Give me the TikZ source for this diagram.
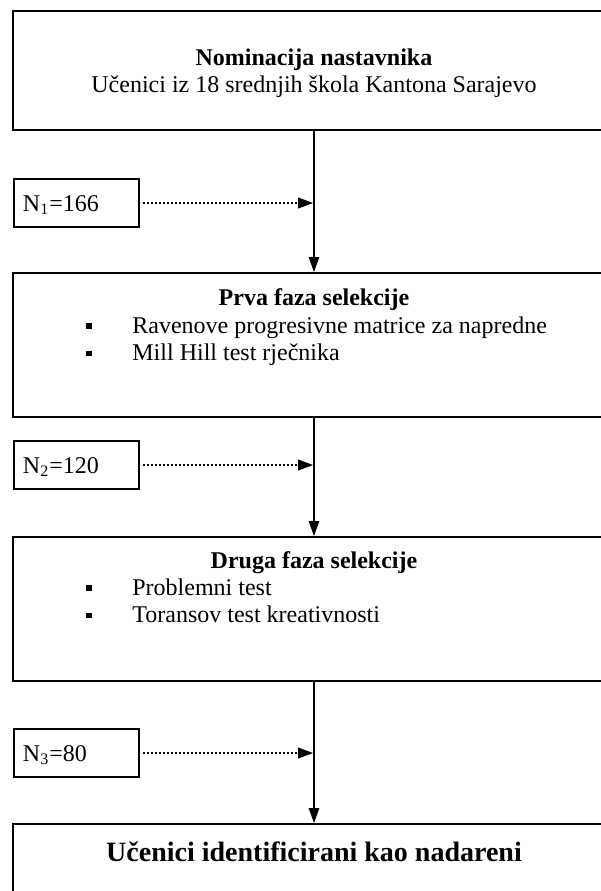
\documentclass[tikz,border=0pt]{standalone}
\usepackage{fontspec}
\setmainfont{Liberation Serif}
\usetikzlibrary{arrows.meta,positioning}
\newcommand\stavka[1]{\makebox[23pt][l]{\raisebox{2.2pt}{\rule{2.6pt}{2.6pt}}}#1}

\begin{document}
\begin{tikzpicture}[x=0.5pt,y=-0.5pt,
  font=\fontsize{12}{13.8}\selectfont,
  >={Triangle[length=7.5pt,width=5.2pt]},
  faza/.style={draw,line width=1pt,minimum width=301pt,inner sep=0pt},
  broj/.style={draw,line width=0.6pt,minimum width=62.5pt,minimum height=24pt,
    text width=53.5pt,inner xsep=4.5pt,align=left,text height=8pt,text depth=0pt},
  tok/.style={->,line width=0.9pt},
  tocke/.style={->,line width=1.1pt,dash pattern=on 1pt off 1pt,shorten >=0.4pt}]
\useasboundingbox (0,0) rectangle (601,891);
\clip (0,0) rectangle (601,891);
\node[faza,minimum height=59.5pt] (nomin) at (314,70.5) {};
\node[faza,minimum height=72pt]   (faza1) at (314,345) {};
\node[faza,minimum height=72pt]   (faza2) at (314,609) {};
\node[faza,minimum height=72pt]   (ishod) at (314,896) {};
\node[anchor=base] (nomin-t) at (314,65) {\begin{tabular}[t]{@{}c@{}}\bfseries Nominacija nastavnika\\
  Učenici iz 18 srednjih škola Kantona Sarajevo\end{tabular}};
\node[anchor=base,font=\fontsize{12}{13.8}\bfseries] (faza1-t) at (314,305) {Prva faza selekcije};
\node[anchor=base west,inner sep=0pt] (faza1-l) at (86,333) {\begin{tabular}[t]{@{}l@{}}\stavka{Ravenove progresivne matrice za napredne}\\
  \stavka{Mill Hill test rječnika}\end{tabular}};
\node[anchor=base,font=\fontsize{12}{13.8}\bfseries] (faza2-t) at (314,568) {Druga faza selekcije};
\node[anchor=base west,inner sep=0pt] (faza2-l) at (86,595) {\begin{tabular}[t]{@{}l@{}}\stavka{Problemni test}\\
  \stavka{Toransov test kreativnosti}\end{tabular}};
\node[anchor=base,font=\fontsize{14}{16}\bfseries] (ishod-t) at (314,861) {Učenici identificirani kao nadareni};
\node[broj] (n1) at (76.5,203) {N\textsubscript{1}=166};
\node[broj] (n2) at (76.5,465) {N\textsubscript{2}=120};
\node[broj] (n3) at (76.5,753) {N\textsubscript{3}=80};
\draw[tok] (nomin) -- (faza1);
\draw[tok] (faza1) -- (faza2);
\draw[tok] (faza2) -- (ishod);
\draw[tocke] ([xshift=1.5pt]n1.east) -- (n1 -| nomin.south);
\draw[tocke] ([xshift=1.5pt]n2.east) -- (n2 -| faza1.south);
\draw[tocke] ([xshift=1.5pt]n3.east) -- (n3 -| faza2.south);
\end{tikzpicture}
\end{document}
